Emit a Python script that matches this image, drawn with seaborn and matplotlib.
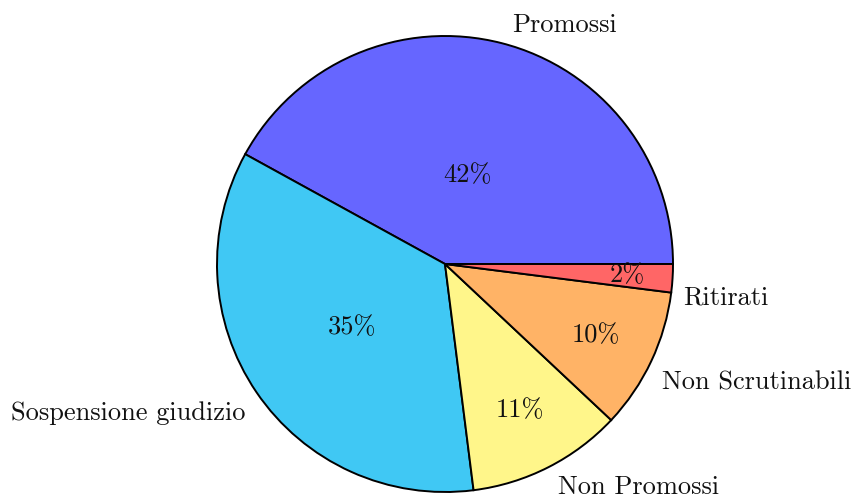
import matplotlib
matplotlib.use("Agg")
import matplotlib.pyplot as plt
import numpy as np
import seaborn as sns

# pie data
categories = ["Promossi", "Sospensione giudizio", "Non Promossi", "Non Scrutinabili", "Ritirati"]
shares = [42, 35, 11, 10, 2]
colors = ["#6666FF", "#40C8F4", "#FFF68A", "#FFB366", "#FF6666"]

sns.set_theme(style="white")
plt.rcParams['font.family'] = ['cmr10', 'DejaVu Serif']
plt.rcParams['mathtext.fontset'] = 'cm'

W, H = 854, 498
fig = plt.figure(figsize=(W / 100, H / 100), dpi=100)
cx, cy, r = 445, 264, 228
ax = fig.add_axes([(cx - r) / W, (H - cy - r) / H, 2 * r / W, 2 * r / H])

wedges, texts, autotexts = ax.pie(
    shares, labels=categories, colors=colors, startangle=0, counterclock=True,
    autopct=lambda p: f"{p:.0f}%", labeldistance=1.1, pctdistance=0.6,
    wedgeprops=dict(edgecolor="black", linewidth=1.4),
    textprops=dict(fontsize=19, color="#111111"))

# per-wedge placement of the labels (radial distance of pct text, label shift)
pct_dist = [0.40, 0.49, 0.72, 0.73, 0.80]
lab_dist = [1.09, 1.094, 1.096, 1.083, 1.054]
lab_angle_shift = [-1.3, 2.5, 0, -3.4, -4.5]
for w, t, a, pd_, ld, sh in zip(wedges, texts, autotexts, pct_dist, lab_dist, lab_angle_shift):
    mid = np.deg2rad((w.theta1 + w.theta2) / 2)
    a.set_position((pd_ * np.cos(mid), pd_ * np.sin(mid)))
    a.set_ha("center"); a.set_va("center")
    la = mid + np.deg2rad(sh)
    t.set_position((ld * np.cos(la), ld * np.sin(la)))

ax.set_xlim(-1, 1)
ax.set_ylim(-1, 1)
ax.set_aspect("equal")
ax.axis("off")

fig.savefig("out.png", dpi=100)
